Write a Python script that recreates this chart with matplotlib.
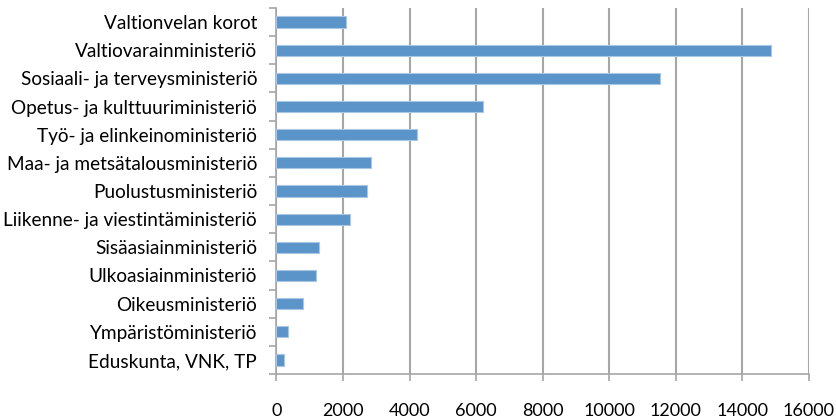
import matplotlib
matplotlib.use('Agg')
import matplotlib.pyplot as plt
import numpy as np

categories = ['Valtionvelan korot', 'Valtiovarainministeriö', 'Sosiaali- ja terveysministeriö',
              'Opetus- ja kulttuuriministeriö', 'Työ- ja elinkeinoministeriö',
              'Maa- ja metsätalousministeriö', 'Puolustusministeriö',
              'Liikenne- ja viestintäministeriö', 'Sisäasiainministeriö',
              'Ulkoasiainministeriö', 'Oikeusministeriö', 'Ympäristöministeriö',
              'Eduskunta, VNK, TP']
values = [2080, 14870, 11530, 6220, 4230, 2830, 2710, 2220, 1280, 1200, 800, 340, 220]
xticks = [0, 2000, 4000, 6000, 8000, 10000, 12000, 14000, 16000]

plt.rcParams['font.family'] = ['Lato', 'DejaVu Sans']

fig = plt.figure(figsize=(8.36, 4.19), dpi=100)
ax = fig.add_axes([0.3307, 0.1074, 0.6367, 0.8736])

y = np.arange(len(categories))[::-1]
ax.barh(y, values, height=0.4, color='#5b94c8', edgecolor='#a9c6e2', linewidth=0.8, zorder=3)

ax.set_xlim(0, 16000)
ax.set_ylim(-0.5, len(categories) - 0.5)
ax.set_xticks(xticks)
ax.set_xticklabels([str(t) for t in xticks], fontsize=13)
ax.set_yticks(y)
ax.set_yticklabels(categories, fontsize=13.7)
ax.set_yticks(np.arange(-0.5, len(categories)), minor=True)
ax.tick_params(axis='y', which='major', length=0, pad=14)
ax.tick_params(axis='y', which='minor', length=5, color='#a6a6a6', width=1.2)
ax.tick_params(axis='x', length=5, color='#a6a6a6', width=1.2, pad=16)

ax.grid(axis='x', color='#a6a6a6', linewidth=1.5, zorder=0)
for s in ['top', 'right']:
    ax.spines[s].set_visible(False)
for s in ['left', 'bottom']:
    ax.spines[s].set_color('#a6a6a6')
    ax.spines[s].set_linewidth(1.2)

fig.savefig('out.png', dpi=100)
